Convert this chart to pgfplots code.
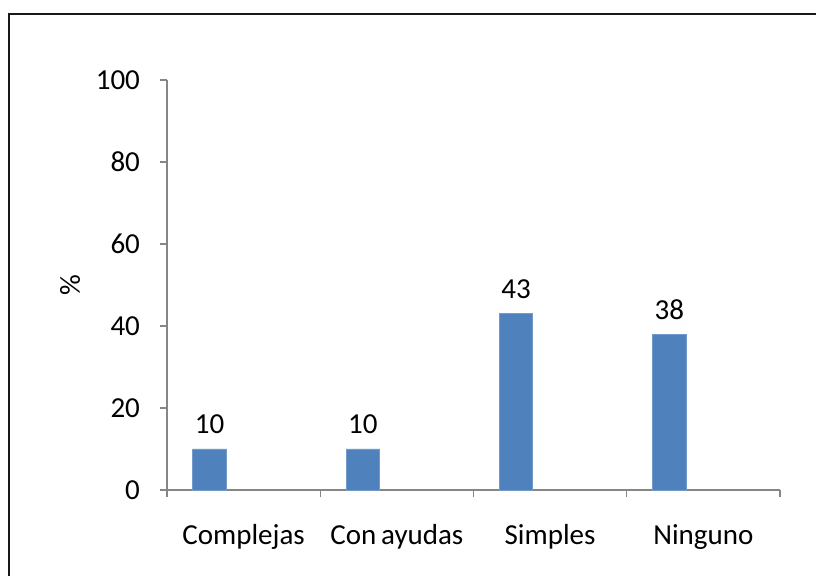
\documentclass[border=0pt]{standalone}
\usepackage{pgfplots}
\pgfplotsset{compat=1.18}
\usepackage{fontspec}
\setmainfont{Carlito}
\definecolor{barblue}{HTML}{4F81BD}
\definecolor{axisgray}{HTML}{868686}
\begin{document}
\begin{tikzpicture}[x=1pt,y=1pt]
\useasboundingbox (-83.5pt,-43pt) rectangle (324.5pt,245pt);
\begin{axis}[
  at={(0pt,0pt)}, anchor=south west,
  scale only axis,
  width=306.5pt, height=205pt,
  xmin=-0.5, xmax=3.5,
  ymin=0, ymax=100,
  ybar, bar width=16.75pt, bar shift=-17pt,
  axis x line*=bottom, axis y line*=left,
  axis line style={-, draw=axisgray, line width=0.6pt},
  tick style={draw=axisgray, line width=0.6pt},
  tick align=outside,
  major tick length=3.5pt,
  ytick={0,20,40,60,80,100},
  xtick={-0.5,0.5,1.5,2.5,3.5},
  xticklabels={Complejas,Con\,ayudas,Simples,Ninguno,},
  xticklabel style={xshift=38.3pt, anchor=center, yshift=-20pt},
  yticklabel style={anchor=east, xshift=-6.5pt},
  font=\fontsize{14.5}{17}\selectfont,
  ticklabel style={font=\fontsize{14.5}{17}\selectfont},
  /pgf/number format/assume math mode=true,
  ylabel={\%},
  every axis y label/.style={at={(axis description cs:0,0.5)}, rotate=90, anchor=center, yshift=48.5pt},
  nodes near coords,
  every node near coord/.append style={anchor=base, yshift=7.5pt, font=\fontsize{14.5}{17}\selectfont},
  clip=false,
]
\addplot[fill=barblue, draw=barblue!80!white] coordinates {(0,10) (1,10) (2,43) (3,38)};
\end{axis}
\draw[line width=1.1pt, draw=black!90] (-79pt,-60pt) -- (-79pt,238pt) -- (340pt,238pt);
\end{tikzpicture}
\end{document}
